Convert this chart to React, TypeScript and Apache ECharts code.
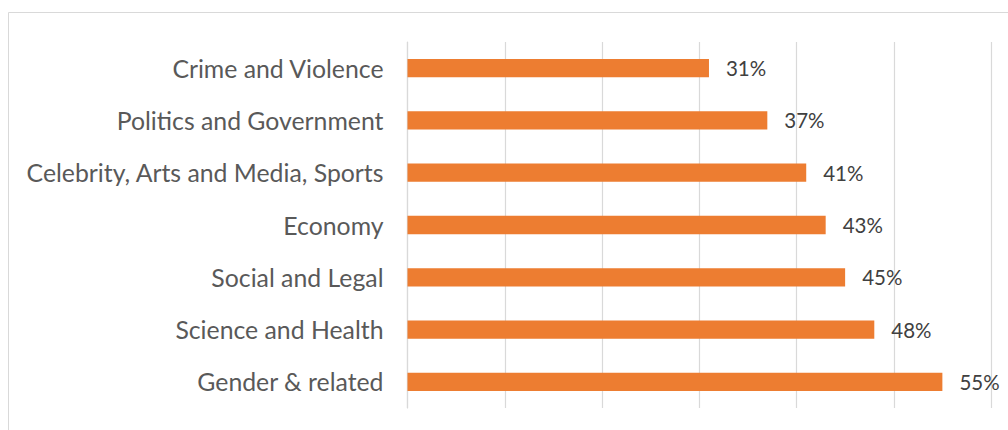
import React, { useEffect, useRef } from "react";
import * as echarts from "echarts";

const categories = [
  "Crime and Violence",
  "Politics and Government",
  "Celebrity, Arts and Media, Sports",
  "Economy",
  "Social and Legal",
  "Science and Health",
  "Gender & related",
];
const values = [31, 37, 41, 43, 45, 48, 55];

export default function App() {
  const ref = useRef<HTMLDivElement>(null);
  useEffect(() => {
    const chart = echarts.init(ref.current!, null, { renderer: "svg" });
    chart.setOption({
      animation: false,
      backgroundColor: "#ffffff",
      textStyle: { fontFamily: "Lato" },
      graphic: [
        {
          type: "rect",
          shape: { x: 8.5, y: 12.5, width: 1010, height: 440 },
          style: { fill: "none", stroke: "#d9d9d9", lineWidth: 1 },
          silent: true,
        },
      ],
      grid: { left: 407.5, top: 42, width: 583.5, height: 366, containLabel: false },
      xAxis: {
        type: "value",
        min: 0,
        max: 60,
        interval: 10,
        axisLabel: { show: false },
        axisLine: { show: false },
        axisTick: { show: false },
        splitLine: { lineStyle: { color: "#d9d9d9", width: 1.2 } },
      },
      yAxis: {
        type: "category",
        data: categories,
        inverse: true,
        axisLine: { show: true, lineStyle: { color: "#d9d9d9", width: 1.2 } },
        axisTick: { show: false },
        axisLabel: { color: "#595959", fontSize: 24.8, margin: 24, fontFamily: "Lato" },
      },
      series: [
        {
          type: "bar",
          data: values,
          barWidth: "35%",
          itemStyle: { color: "#ED7D31" },
          label: {
            show: true,
            position: "right",
            distance: 17,
            formatter: "{c}%",
            color: "#404040",
            fontSize: 20.5,
            fontFamily: "Lato",
          },
        },
      ],
    });
    return () => chart.dispose();
  }, []);
  return (
    <div
      ref={ref}
      style={{ position: "absolute", left: 0, top: 0, width: 1008, height: 430 }}
    />
  );
}
